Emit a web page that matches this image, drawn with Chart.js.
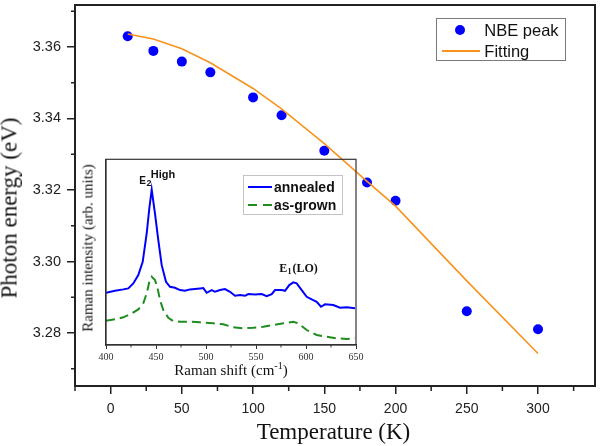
<!DOCTYPE html>
<html>
<head>
<meta charset="utf-8">
<script src="https://cdn.jsdelivr.net/npm/chart.js@4.4.1/dist/chart.umd.min.js"></script>
<style>
  html, body { margin:0; padding:0; background:#fff; }
  #wrap { position:relative; width:600px; height:446px; overflow:hidden; background:#fff; }
  canvas { position:absolute; }
  #main { left:0; top:0; }
  #inset { left:76px; top:150px; }
  .t { position:absolute; white-space:nowrap; color:#111; }
  .serif { font-family:"Liberation Serif","Times New Roman",serif; }
  .sans { font-family:"Liberation Sans",Arial,sans-serif; }
  .box { position:absolute; box-sizing:border-box; }
</style>
</head>
<body>
<div id="wrap">
  <canvas id="main" width="600" height="446"></canvas>
  <canvas id="inset" width="290" height="240"></canvas>

  <!-- main axis titles -->
  <div class="t serif" id="ytitle" style="font-size:23px;line-height:23px;left:9.1px;top:208.3px;transform:translate(-50%,-50%) rotate(-90deg);">Photon energy (eV)</div>
  <div class="t serif" style="font-size:23px;line-height:23px;left:333.5px;top:420px;transform:translateX(-50%);">Temperature (K)</div>

  <!-- main legend -->
  <div class="box" style="left:435.7px;top:18.3px;width:130px;height:42.7px;border:1px solid #7a7a7a;"></div>
  <div class="box" style="left:455.3px;top:25px;width:10px;height:10px;border-radius:50%;background:#0000ff;"></div>
  <div class="box" style="left:441.7px;top:49.7px;width:38.3px;height:2px;background:#f7931e;"></div>
  <div class="t sans" style="font-size:16.5px;line-height:16.5px;left:484.3px;top:21.9px;">NBE peak</div>
  <div class="t sans" style="font-size:16.5px;line-height:16.5px;left:484.3px;top:42.9px;">Fitting</div>

  <!-- inset titles -->
  <div class="t serif" style="font-size:15px;line-height:15px;left:87.6px;top:248.3px;transform:translate(-50%,-50%) rotate(-90deg);">Raman intensity (arb. units)</div>
  <div class="t serif" style="font-size:15px;line-height:15px;left:231px;top:363.4px;transform:translateX(-50%);">Raman shift (cm<span style="font-size:10px;position:relative;top:-6px;">-1</span>)</div>

  <!-- inset legend -->
  <div class="box" style="left:242.7px;top:175px;width:100.6px;height:40px;border:1px solid #c4c4c4;"></div>
  <div class="box" style="left:248.3px;top:186.3px;width:23.4px;height:2px;background:#0000ff;"></div>
  <div class="box" style="left:248.3px;top:204px;width:9px;height:2px;background:#1e8c1e;"></div>
  <div class="box" style="left:263px;top:204px;width:9px;height:2px;background:#1e8c1e;"></div>
  <div class="t sans" style="font-weight:bold;font-size:14px;line-height:14px;left:274px;top:180.4px;">annealed</div>
  <div class="t sans" style="font-weight:bold;font-size:14px;line-height:14px;left:274px;top:198.1px;">as-grown</div>

  <!-- inset peak annotations -->
  <div class="t sans" style="font-weight:bold;font-size:10px;line-height:10px;left:139.3px;top:175.5px;">E</div>
  <div class="t sans" style="font-weight:bold;font-size:9px;line-height:9px;left:146.6px;top:178.9px;">2</div>
  <div class="t sans" style="font-weight:bold;font-size:11px;line-height:11px;left:150.7px;top:169px;">High</div>
  <div class="t serif" style="font-weight:bold;font-size:12px;line-height:12px;left:279.3px;top:261.6px;">E</div>
  <div class="t serif" style="font-weight:bold;font-size:8px;line-height:8px;left:287.5px;top:267.8px;">1</div>
  <div class="t serif" style="font-weight:bold;font-size:12px;line-height:12px;left:292.5px;top:261.6px;">(LO)</div>
</div>

<script>
// ---------- main chart data ----------
const temperatures = [12, 30, 50, 70, 100, 120, 150, 180, 200, 250, 300];
const nbePeak      = [3.3630, 3.3589, 3.3559, 3.3529, 3.3459, 3.3409, 3.3310, 3.3221, 3.3170, 3.2861, 3.2811];
const fitTemps     = [12, 30, 50, 70, 100, 120, 150, 180, 200, 250, 300];
const fitEnergy    = [3.3636, 3.3622, 3.3595, 3.3556, 3.3484, 3.3427, 3.3330, 3.3224, 3.3155, 3.2946, 3.2743];

const xMajorTicks  = [0, 50, 100, 150, 200, 250, 300];
const xTickLabels  = ['0', '50', '100', '150', '200', '250', '300'];
const xMinorTicks  = [-25, 25, 75, 125, 175, 225, 275, 325];
const yMajorTicks  = [3.28, 3.30, 3.32, 3.34, 3.36];
const yTickLabels  = ['3.28', '3.30', '3.32', '3.34', '3.36'];
const yMinorTicks  = [3.27, 3.29, 3.31, 3.33, 3.35, 3.37];

// ---------- inset (Raman) data ----------
const ramanShiftA = [400,409,417.3,422.3,427.3,432.3,436.7,440.7,443.3,445.7,449,452.3,455.7,460,464,469,474,479,484,494,497.3,500.7,505.7,509,514,519,524,529,534,539,542.3,549,555.7,560.7,565.7,569,575.7,579,583.3,587.3,590.7,595.7,600.7,605.7,610.7,615,619,627.3,634,640.7,649];
const annealed    = [52.3,54.3,55.7,56.7,61.7,70,83.3,111.7,136.7,155.7,131.7,105,80,63.3,58.3,57.3,55,54.3,55.7,56.7,57,52.3,55,53.3,55,56,53.3,49.3,50,49.3,51,50.7,51,49,51,55,55,54.3,60,62.7,61.7,55,48.3,45.7,43.3,38.3,40.7,40,37.3,37.7,36.7];
const ramanShiftG = [400,409,417.3,425.7,432.3,437.3,440.7,443.3,445.7,449,451.3,454,457.3,462.3,467.3,474,484,494,507.3,517.3,527.3,537.3,547.3,557.3,567.3,577.3,587.3,592.3,600.7,610.7,620.7,630.7,640.7,649];
const asGrown     = [24.3,25.7,27.7,31.7,35.7,41.7,51.7,63.3,68.3,65,58.3,45,35,27.3,24,23.3,23.3,22.7,21.7,20.7,17.7,16.7,17.3,18.3,20,21.7,23.3,21.7,15,10,8.3,6.7,6,6.7];
const insetXMajor  = [400, 450, 500, 550, 600, 650];
const insetXLabels = ['400', '450', '500', '550', '600', '650'];
const insetXMinor  = [425, 475, 525, 575, 625];

const INK = '#222';
const noPad = s => { s.paddingTop = 0; s.paddingBottom = 0; s.paddingLeft = 0; s.paddingRight = 0; };

const mainDecor = {
  id: 'mainDecor',
  afterDraw(chart) {
    const {ctx, chartArea: a, scales: {x, y}} = chart;
    ctx.save();
    ctx.strokeStyle = INK;
    ctx.lineWidth = 2;
    ctx.strokeRect(a.left, a.top, a.right - a.left, a.bottom - a.top);
    ctx.lineWidth = 1.5;
    ctx.beginPath();
    xMinorTicks.forEach(v => { const p = x.getPixelForValue(v); ctx.moveTo(p, a.bottom); ctx.lineTo(p, a.bottom + 5); });
    yMinorTicks.forEach(v => { const p = y.getPixelForValue(v); ctx.moveTo(a.left, p); ctx.lineTo(a.left - 4, p); });
    ctx.stroke();
    ctx.restore();
  }
};

new Chart(document.getElementById('main'), {
  type: 'scatter',
  data: {
    datasets: [
      { label: 'NBE peak', data: temperatures.map((t, i) => ({x: t, y: nbePeak[i]})),
        backgroundColor: '#0000ff', borderColor: '#0000ff', borderWidth: 0,
        pointRadius: 5, pointHoverRadius: 5, showLine: false, order: 2 },
      { label: 'Fitting', data: fitTemps.map((t, i) => ({x: t, y: fitEnergy[i]})),
        showLine: true, borderColor: '#f7931e', borderWidth: 1.6, pointRadius: 0,
        tension: 0, fill: false, order: 1 }
    ]
  },
  options: {
    responsive: false, animation: false, devicePixelRatio: 1,
    layout: { padding: { top: 2, right: 2, left: 0, bottom: 0 } },
    plugins: { legend: { display: false }, tooltip: { enabled: false } },
    scales: {
      x: {
        type: 'linear', min: -25, max: 340,
        afterBuildTicks: s => { s.ticks = xMajorTicks.map(v => ({value: v})); },
        afterFit: s => { s.height = 60; noPad(s); },
        ticks: { callback: v => xTickLabels[xMajorTicks.indexOf(v)], autoSkip: false, maxRotation: 0,
                 font: { family: 'Liberation Sans', size: 14 }, color: INK, padding: 7 },
        grid: { drawOnChartArea: false, drawTicks: true, tickLength: 8, color: INK, lineWidth: 1.5 },
        border: { display: true, color: INK, width: 2 }
      },
      y: {
        type: 'linear', min: 3.26521, max: 3.37173,
        afterBuildTicks: s => { s.ticks = yMajorTicks.map(v => ({value: v})); },
        afterFit: s => { s.width = 75; noPad(s); },
        ticks: { callback: v => yTickLabels[yMajorTicks.indexOf(v)], autoSkip: false,
                 font: { family: 'Liberation Sans', size: 14.5 }, color: INK, padding: 6 },
        grid: { drawOnChartArea: false, drawTicks: true, tickLength: 8, color: INK, lineWidth: 1.5 },
        border: { display: true, color: INK, width: 2 }
      }
    }
  },
  plugins: [mainDecor]
});

const insetDecor = {
  id: 'insetDecor',
  afterDraw(chart) {
    const {ctx, chartArea: a, scales: {x}} = chart;
    ctx.save();
    ctx.strokeStyle = '#333';
    ctx.lineWidth = 1.2;
    ctx.strokeRect(a.left, a.top, a.right - a.left, a.bottom - a.top);
    ctx.lineWidth = 1;
    ctx.beginPath();
    insetXMinor.forEach(v => { const p = x.getPixelForValue(v); ctx.moveTo(p, a.bottom); ctx.lineTo(p, a.bottom + 2.5); });
    ctx.stroke();
    ctx.restore();
  }
};

new Chart(document.getElementById('inset'), {
  type: 'scatter',
  data: {
    datasets: [
      { label: 'annealed', data: ramanShiftA.map((s, i) => ({x: s, y: annealed[i]})),
        showLine: true, borderColor: '#0000ff', borderWidth: 2, pointRadius: 0, tension: 0 },
      { label: 'as-grown', data: ramanShiftG.map((s, i) => ({x: s, y: asGrown[i]})),
        showLine: true, borderColor: '#1e8c1e', borderWidth: 2, borderDash: [9, 5], pointRadius: 0, tension: 0 }
    ]
  },
  options: {
    responsive: false, animation: false, devicePixelRatio: 1,
    layout: { padding: { top: 9.3, right: 10, left: 0, bottom: 0 } },
    plugins: { legend: { display: false }, tooltip: { enabled: false } },
    scales: {
      x: {
        type: 'linear', min: 400, max: 650,
        afterBuildTicks: s => { s.ticks = insetXMajor.map(v => ({value: v})); },
        afterFit: s => { s.height = 45; noPad(s); },
        ticks: { callback: v => insetXLabels[insetXMajor.indexOf(v)], autoSkip: false, maxRotation: 0,
                 font: { family: 'Liberation Serif', size: 10 }, color: '#333', padding: 2 },
        grid: { drawOnChartArea: false, drawTicks: true, tickLength: 4, color: '#333', lineWidth: 1 },
        border: { display: true, color: '#333', width: 1.2 }
      },
      y: {
        type: 'linear', min: 0, max: 186,
        afterFit: s => { s.width = 30; noPad(s); },
        ticks: { display: false },
        grid: { display: false, drawTicks: false },
        border: { display: true, color: '#333', width: 1.2 }
      }
    }
  },
  plugins: [insetDecor]
});
</script>
</body>
</html>
